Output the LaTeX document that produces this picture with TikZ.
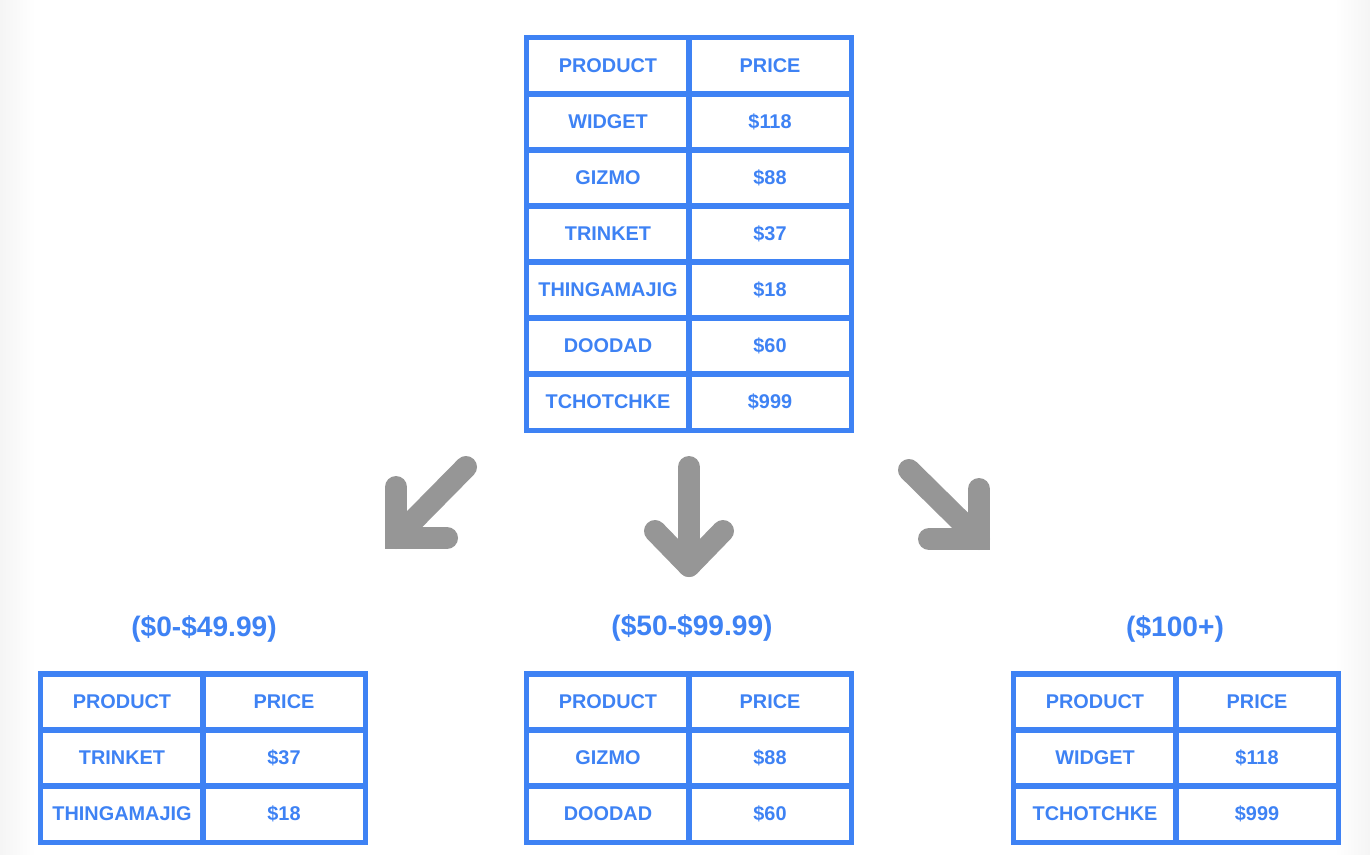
\documentclass[tikz,border=0pt]{standalone}
\usepackage{fontspec}
\setmainfont{Liberation Sans}
\definecolor{tblue}{RGB}{62,130,244}
\definecolor{agray}{RGB}{150,150,150}
\tikzset{
  cell/.style={draw=tblue, line width=0.05cm, minimum width=1.62cm, minimum height=0.56cm,
    inner sep=0pt, text=tblue, font=\fontsize{5.65pt}{6pt}\selectfont\bfseries},
  rangelabel/.style={text=tblue, inner sep=0pt, font=\fontsize{8pt}{9pt}\selectfont\bfseries},
  bigarrow/.style={draw=agray, line width=0.22cm, line cap=round},
}
\newcommand{\mytabrow}[6]{%
  \node[cell] (#1-a) at (#2,#4) {#5};
  \node[cell] (#1-b) at (#3,#4) {#6};
}
\begin{document}
\begin{tikzpicture}[x=0.01cm,y=-0.01cm]
\useasboundingbox (0,0) rectangle (1370,854);
\fill[white] (0,0) rectangle (1370,854);
\shade[left color=black!4, right color=white] (0,0) rectangle (35,854);
\shade[left color=white, right color=black!4] (1335,0) rectangle (1370,854);

% top table
\mytabrow{t0}{608}{770}{66}{PRODUCT}{PRICE}
\mytabrow{t1}{608}{770}{122}{WIDGET}{\$118}
\mytabrow{t2}{608}{770}{178}{GIZMO}{\$88}
\mytabrow{t3}{608}{770}{234}{TRINKET}{\$37}
\mytabrow{t4}{608}{770}{290}{THINGAMAJIG}{\$18}
\mytabrow{t5}{608}{770}{346}{DOODAD}{\$60}
\mytabrow{t6}{608}{770}{402}{TCHOTCHKE}{\$999}

% arrows
\coordinate (la1) at (466,467);
\coordinate (la2) at (396,538);
\coordinate (la3) at (396,487);
\coordinate (la4) at (447,538);
\draw[bigarrow] (la1) -- (la2);
\draw[bigarrow, line join=miter] (la3) -- (la2) -- (la4);

\coordinate (ma1) at (689,467);
\coordinate (ma2) at (689,566);
\coordinate (ma3) at (655,531);
\coordinate (ma4) at (723,531);
\draw[bigarrow] (ma1) -- (ma2);
\draw[bigarrow, line join=round] (ma3) -- (ma2) -- (ma4);

\coordinate (ra1) at (909,470);
\coordinate (ra2) at (979,539);
\coordinate (ra3) at (979,489);
\coordinate (ra4) at (929,539);
\draw[bigarrow] (ra1) -- (ra2);
\draw[bigarrow, line join=miter] (ra3) -- (ra2) -- (ra4);

% range labels
\node[rangelabel] (l1) at (204,629) {(\$0-\$49.99)};
\node[rangelabel] (l2) at (692,628) {(\$50-\$99.99)};
\node[rangelabel] (l3) at (1175,629) {(\$100+)};

% bottom left
\mytabrow{bl0}{122}{284}{702}{PRODUCT}{PRICE}
\mytabrow{bl1}{122}{284}{758}{TRINKET}{\$37}
\mytabrow{bl2}{122}{284}{814}{THINGAMAJIG}{\$18}
% bottom middle
\mytabrow{bm0}{608}{770}{702}{PRODUCT}{PRICE}
\mytabrow{bm1}{608}{770}{758}{GIZMO}{\$88}
\mytabrow{bm2}{608}{770}{814}{DOODAD}{\$60}
% bottom right
\mytabrow{br0}{1095}{1257}{702}{PRODUCT}{PRICE}
\mytabrow{br1}{1095}{1257}{758}{WIDGET}{\$118}
\mytabrow{br2}{1095}{1257}{814}{TCHOTCHKE}{\$999}
\end{tikzpicture}
\end{document}
